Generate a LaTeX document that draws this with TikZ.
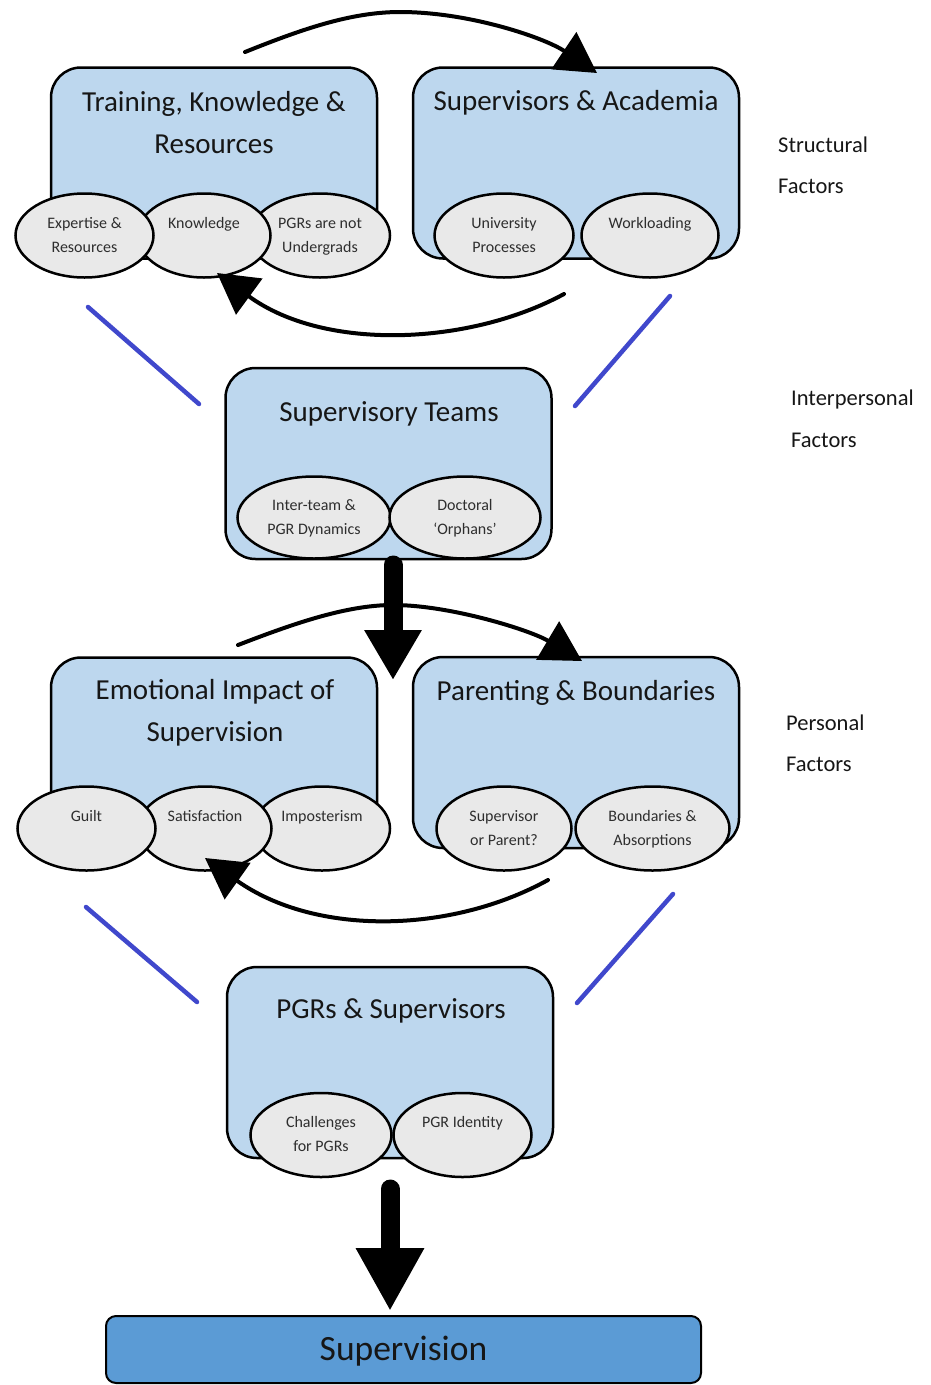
\documentclass[tikz,border=0pt]{standalone}
\usepackage{fontspec}
\setmainfont{Carlito}
\usetikzlibrary{shapes.geometric,arrows.meta}

\definecolor{boxblue}{RGB}{189,215,238}
\definecolor{ovalgrey}{RGB}{233,233,233}
\definecolor{basebox}{RGB}{91,155,213}
\definecolor{linkblue}{RGB}{64,72,204}
\definecolor{ink}{RGB}{22,22,22}

% two stacked lines of equal height inside a sub-theme oval
\newcommand\twoline[2]{\strut#1\\\strut#2}

\begin{document}
\begin{tikzpicture}[x=1pt,y=-1pt,
  themebox/.style={draw=black, line width=2.5pt, fill=boxblue,
    rounded corners=30pt, minimum width=326pt, minimum height=191pt, inner sep=0pt},
  title/.style={font=\fontsize{29}{42}\selectfont, align=center, inner sep=0pt, text=ink},
  subtheme/.style={ellipse, draw=black, line width=2.5pt, fill=ovalgrey,
    minimum height=84pt, inner sep=0pt, align=center,
    font=\fontsize{16}{24}\selectfont, text=black!82},
  sidelabel/.style={font=\fontsize{22.5}{41.5}\selectfont, align=left,
    anchor=west, inner sep=0pt, text=ink},
  flow/.style={line width=4pt, line cap=round, -{Triangle[length=40pt,width=44pt]}},
  tie/.style={line width=4.5pt, draw=linkblue, line cap=round},
  bigflow/.style={line width=19pt, line cap=round},
]
\useasboundingbox (0,0) rectangle (930,1385);

% ---------- theme boxes ----------
\node[themebox] (trk) at (214,163) {};
\node[themebox] (sac) at (576,163) {};
\node[themebox] (stm) at (388.5,463.5) {};
\node[themebox] (emo) at (214,753) {};
\node[themebox] (par) at (576,752.5) {};
\node[themebox] (pgs) at (390,1062.5) {};

\node[title] (trkT) at (214,123.6) {\strut Training, Knowledge \&\\\strut Resources};
\node[title] (sacT) at (576,101.6) {\strut Supervisors \& Academia};
\node[title] (stmT) at (389,413.3) {\strut Supervisory Teams};
\node[title] (emoT) at (215,712.4) {\strut Emotional Impact of\\\strut Supervision};
\node[title] (parT) at (576,691.6) {\strut Parenting \& Boundaries};
\node[title] (pgsT) at (391,1009.6) {\strut PGRs \& Supervisors};

% ---------- sub-themes ----------
\node[subtheme, minimum width=140pt] (pgu) at (320,235.5) {\twoline{PGRs are not}{Undergrads}};
\node[subtheme, minimum width=133pt] (knw) at (204,235.5) {\twoline{Knowledge}{}};
\node[subtheme, minimum width=138pt] (exr) at (84.5,235.5) {\twoline{Expertise \&}{Resources}};
\node[subtheme, minimum width=137pt] (wkl) at (650,235.5) {\twoline{Workloading}{}};
\node[subtheme, minimum width=139pt] (unp) at (504,235.5) {\twoline{University}{Processes}};

\node[subtheme, minimum width=153pt, minimum height=82pt] (itd) at (314,517.5) {\twoline{Inter-team \&}{PGR Dynamics}};
\node[subtheme, minimum width=151pt, minimum height=82pt] (dor) at (465,517.5) {\twoline{Doctoral}{‘Orphans’}};

\node[subtheme, minimum width=136pt] (imp) at (322,828.5) {\twoline{Imposterism}{}};
\node[subtheme, minimum width=133pt] (sat) at (205,828.5) {\twoline{Satisfaction}{}};
\node[subtheme, minimum width=138pt] (glt) at (86.5,828.5) {\twoline{Guilt}{}};
\node[subtheme, minimum width=154pt] (bab) at (652.5,828.5) {\twoline{Boundaries \&}{Absorptions}};
\node[subtheme, minimum width=135pt] (sop) at (504,828.5) {\twoline{Supervisor}{or Parent?}};

\node[subtheme, minimum width=138pt] (ipg) at (462.5,1135) {\twoline{PGR Identity}{}};
\node[subtheme, minimum width=141pt] (cfp) at (321,1135) {\twoline{Challenges}{for PGRs}};

% ---------- outcome ----------
\node[draw=black, line width=2pt, fill=basebox, rounded corners=10pt,
      minimum width=595pt, minimum height=67pt, inner sep=0pt] (sup) at (403.5,1349.5) {};
\node[anchor=base, inner sep=0pt, font=\fontsize{35.5}{40}\selectfont, text=ink] (supT) at (403.5,1360) {Supervision};

% ---------- level labels ----------
\node[sidelabel] (lvS) at (778,164.5) {\strut Structural\\\strut Factors};
\node[sidelabel] (lvI) at (791,418) {\strut Interpersonal\\\strut Factors};
\node[sidelabel] (lvP) at (786,742.5) {\strut Personal\\\strut Factors};

% ---------- reciprocal arrows ----------
\coordinate (a1s) at (245,52);   \coordinate (a1m) at (400,12);  \coordinate (a1e) at (597,73);
\coordinate (a2s) at (564,294);  \coordinate (a2e) at (217,273);
\coordinate (a3s) at (238,645);  \coordinate (a3m) at (393,605); \coordinate (a3e) at (582,661);
\coordinate (a4s) at (548,880);  \coordinate (a4e) at (205,858);
\draw[flow] (a1s) .. controls (300,30) and (350,12) .. (a1m)
                  .. controls (470,12) and (545,38) .. (a1e);
\draw[flow] (a2s) .. controls (470,345) and (325,352) .. (a2e);
\draw[flow] (a3s) .. controls (290,625) and (345,605) .. (a3m)
                  .. controls (450,605) and (530,630) .. (a3e);
\draw[flow] (a4s) .. controls (450,934) and (315,936) .. (a4e);

% ---------- links between levels ----------
\coordinate (l1a) at (88,307);  \coordinate (l1b) at (199,404);
\coordinate (l2a) at (670,296); \coordinate (l2b) at (575,406);
\coordinate (l3a) at (86,907);  \coordinate (l3b) at (197,1002);
\coordinate (l4a) at (673,894); \coordinate (l4b) at (577,1003);
\draw[tie] (l1a) -- (l1b);
\draw[tie] (l2a) -- (l2b);
\draw[tie] (l3a) -- (l3b);
\draw[tie] (l4a) -- (l4b);

% ---------- downward flow ----------
\coordinate (d1s) at (393,565);  \coordinate (d1e) at (393,680);
\coordinate (d2s) at (390,1189); \coordinate (d2e) at (390,1311);
\draw[bigflow, -{Triangle[length=50pt,width=54pt]}] (d1s) -- (d1e);
\draw[bigflow, -{Triangle[length=63pt,width=64pt]}] (d2s) -- (d2e);
\end{tikzpicture}
\end{document}
